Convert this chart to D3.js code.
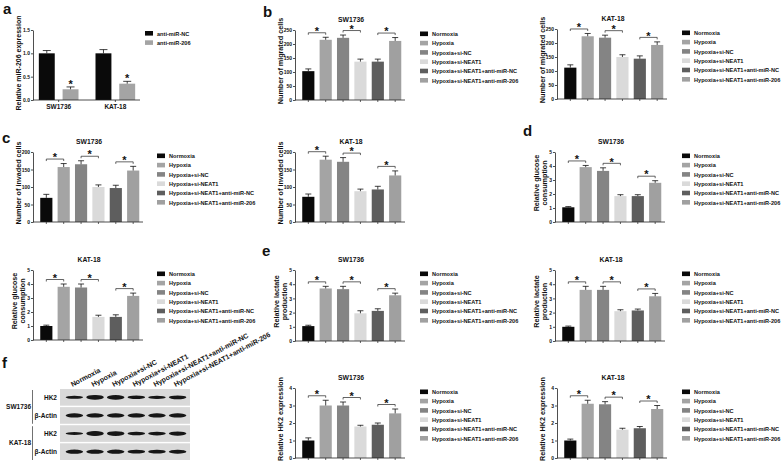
<!DOCTYPE html>
<html>
<head>
<meta charset="utf-8">
<script src="https://cdn.jsdelivr.net/npm/d3@7"></script>
<style>
  body { margin: 0; background: #fff; }
  svg text { font-family: "Liberation Sans", Arial, sans-serif; font-weight: bold; fill: #111; }
</style>
</head>
<body>
<svg id="fig" width="784" height="468"></svg>
<script>
// ---- data ----
const groups = ["Normoxia", "Hypoxia", "Hypoxia+si-NC", "Hypoxia+si-NEAT1",
  "Hypoxia+si-NEAT1+anti-miR-NC", "Hypoxia+si-NEAT1+anti-miR-206"];
const pairs = [[0, 1], [2, 3], [4, 5]];

// panel a
const aCells = ["SW1736", "KAT-18"];
const aSeries = ["anti-miR-NC", "anti-miR-206"];
const aVals = [[1.0, 0.23], [1.0, 0.35]];
const aErrs = [[0.06, 0.05], [0.08, 0.05]];

// panel b: migrated cells
const migSW = [103, 215, 222, 137, 137, 211];
const migSWErr = [8, 9, 10, 9, 9, 12];
const migKAT = [112, 224, 219, 150, 144, 193];
const migKATErr = [10, 10, 9, 8, 10, 11];

// panel c: invaded cells
const invSW = [69, 157, 165, 100, 97, 147];
const invSWErr = [10, 10, 10, 6, 8, 12];
const invKAT = [72, 178, 172, 88, 93, 133];
const invKATErr = [8, 10, 12, 6, 9, 13];

// panel d: glucose consumption
const gluSW = [1.05, 3.92, 3.65, 1.85, 1.85, 2.8];
const gluSWErr = [0.05, 0.12, 0.22, 0.1, 0.1, 0.15];
const gluKAT = [1.0, 3.8, 3.75, 1.65, 1.65, 3.15];
const gluKATErr = [0.06, 0.2, 0.25, 0.12, 0.15, 0.2];

// panel e: lactate production
const lacSW = [1.05, 3.7, 3.65, 1.95, 2.12, 3.22];
const lacSWErr = [0.06, 0.15, 0.2, 0.18, 0.15, 0.15];
const lacKAT = [1.0, 3.6, 3.6, 2.1, 2.15, 3.15];
const lacKATErr = [0.05, 0.25, 0.25, 0.1, 0.1, 0.2];

// panel f: HK2 expression
const hkSW = [1.0, 3.0, 3.0, 1.8, 1.9, 2.55];
const hkSWErr = [0.15, 0.3, 0.2, 0.07, 0.1, 0.25];
const hkKAT = [1.0, 3.1, 3.07, 1.62, 1.7, 2.8];
const hkKATErr = [0.08, 0.2, 0.15, 0.08, 0.1, 0.2];

// western blot band strength (0..1)
const blotRows = ["HK2", "β-Actin", "HK2", "β-Actin"];
const blotCells = ["SW1736", "KAT-18"];
const bandHK2SW = [0.35, 0.9, 0.85, 0.5, 0.45, 0.6];
const bandActSW = [0.75, 0.7, 0.7, 0.75, 0.7, 0.7];
const bandHK2KAT = [0.35, 0.95, 0.9, 0.5, 0.55, 0.75];
const bandActKAT = [0.75, 0.7, 0.7, 0.6, 0.6, 0.65];

const groupColors = ["#0a0a0a", "#a4a4a4", "#848484", "#dadada", "#5e5e5e", "#a0a0a0"];
const aColors = ["#0a0a0a", "#a4a4a4"];

const svg = d3.select("#fig");

function styleAxis(g) {
  g.attr("font-family", null).attr("font-size", 5);
  g.selectAll("path, line").attr("stroke", "#222").attr("stroke-width", 0.8);
  g.selectAll("text").attr("fill", "#222");
}

function legend(x, y, labels, colors) {
  const g = svg.append("g").attr("transform", `translate(${x},${y})`);
  labels.forEach((t, i) => {
    g.append("rect").attr("x", 0).attr("y", i * 9.3 - 2.5).attr("width", 8).attr("height", 4.6).attr("fill", colors[i]);
    g.append("text").attr("x", 12).attr("y", i * 9.3 + 2).attr("font-size", 5.6).attr("fill", "#333").text(t);
  });
}

function yTitle(lines, cx, cy, size) {
  const t = svg.append("text").attr("transform", `translate(${cx},${cy}) rotate(-90)`)
    .attr("text-anchor", "middle").attr("font-size", size || 7.2).attr("fill", "#222");
  lines.forEach((l, i) => {
    t.append("tspan").attr("x", 0).attr("dy", i === 0 ? -(lines.length - 1) * 4.2 + 2.5 : 8.2).text(l);
  });
}

function barPanel(p) {
  const g = svg.append("g");
  const y = d3.scaleLinear().domain([0, p.max]).range([p.yBot, p.yTop]);
  const x = d3.scaleBand().domain(d3.range(groups.length))
    .range([p.x0 + 5.5, p.x0 + 108]).paddingInner(0.3).paddingOuter(0.1);
  const cx = i => x(i) + x.bandwidth() / 2;

  g.selectAll("rect.bar").data(p.vals).join("rect").attr("class", "bar")
    .attr("x", (d, i) => x(i)).attr("width", x.bandwidth())
    .attr("y", d => y(d)).attr("height", d => p.yBot - y(d))
    .attr("fill", (d, i) => groupColors[i]);

  // error bars (upper only)
  p.vals.forEach((v, i) => {
    const top = y(v + p.errs[i]);
    g.append("line").attr("x1", cx(i)).attr("x2", cx(i)).attr("y1", y(v)).attr("y2", top)
      .attr("stroke", "#111").attr("stroke-width", 0.8);
    g.append("line").attr("x1", cx(i) - 3).attr("x2", cx(i) + 3).attr("y1", top).attr("y2", top)
      .attr("stroke", "#111").attr("stroke-width", 0.8);
  });

  // significance brackets
  pairs.forEach(([a, b]) => {
    const hi = Math.max(p.vals[a] + p.errs[a], p.vals[b] + p.errs[b]);
    const yb = y(hi) - 4.5;
    g.append("path").attr("d", `M${cx(a)},${yb + 2}V${yb}H${cx(b)}V${yb + 2}`)
      .attr("fill", "none").attr("stroke", "#222").attr("stroke-width", 0.7);
    g.append("text").attr("x", (cx(a) + cx(b)) / 2).attr("y", yb + 2.2)
      .attr("text-anchor", "middle").attr("font-size", 11).text("*");
  });

  const ya = g.append("g").attr("transform", `translate(${p.x0},0)`)
    .call(d3.axisLeft(y).tickValues(d3.range(0, p.max + 1e-9, p.step))
      .tickSize(2).tickSizeOuter(0).tickPadding(1).tickFormat(d3.format("d")));
  styleAxis(ya);

  g.append("line").attr("x1", p.x0).attr("x2", p.x0 + 110).attr("y1", p.yBot).attr("y2", p.yBot)
    .attr("stroke", "#222").attr("stroke-width", 0.8);
  d3.range(groups.length).forEach(i => {
    g.append("line").attr("x1", cx(i)).attr("x2", cx(i)).attr("y1", p.yBot).attr("y2", p.yBot + 2)
      .attr("stroke", "#222").attr("stroke-width", 0.7);
  });

  svg.append("text").attr("x", p.x0 + 56).attr("y", p.yTop - 8).attr("text-anchor", "middle")
    .attr("font-size", 6.8).attr("fill", "#222").text(p.title);
  yTitle(p.ylab, p.x0 - 14.5, (p.yTop + p.yBot) / 2 - 4);
  if (p.legend) legend(p.legend[0], p.legend[1], groups, groupColors);
}

// ---- panel a ----
(function () {
  const x0 = 33, yTop = 30, yBot = 100;
  const y = d3.scaleLinear().domain([0, 1.5]).range([yBot, yTop]);
  const xg = d3.scaleBand().domain(aCells).range([x0 + 3, x0 + 105]).paddingInner(0.3).paddingOuter(0.05);
  const xs = d3.scaleBand().domain(d3.range(aSeries.length)).range([0, xg.bandwidth()]).paddingInner(0.33);
  const g = svg.append("g");
  aCells.forEach((c, ci) => {
    aVals[ci].forEach((v, si) => {
      const bx = xg(c) + xs(si), bc = bx + xs.bandwidth() / 2;
      g.append("rect").attr("x", bx).attr("width", xs.bandwidth()).attr("y", y(v))
        .attr("height", yBot - y(v)).attr("fill", aColors[si]);
      const top = y(v + aErrs[ci][si]);
      g.append("line").attr("x1", bc).attr("x2", bc).attr("y1", y(v)).attr("y2", top).attr("stroke", "#111").attr("stroke-width", 0.8);
      g.append("line").attr("x1", bc - 4).attr("x2", bc + 4).attr("y1", top).attr("y2", top).attr("stroke", "#111").attr("stroke-width", 0.8);
      if (si === 1) g.append("text").attr("x", bc).attr("y", top + 1).attr("text-anchor", "middle").attr("font-size", 11).text("*");
    });
  });
  const ya = g.append("g").attr("transform", `translate(${x0},0)`)
    .call(d3.axisLeft(y).tickValues([0, 0.5, 1, 1.5]).tickSize(2).tickSizeOuter(0).tickPadding(1).tickFormat(d3.format(".1f")));
  styleAxis(ya);
  const xa = g.append("g").attr("transform", `translate(0,${yBot})`)
    .call(d3.axisBottom(xg).tickSize(2).tickSizeOuter(0).tickPadding(2));
  styleAxis(xa);
  xa.select(".domain").attr("d", `M${x0},0H${x0 + 107}`);
  xa.selectAll("text").attr("font-size", 6.5);
  yTitle(["Relative miR-206 expression"], 18, 63, 7);
  legend(145, 33.5, aSeries, aColors);
})();

// ---- bar panels b-f ----
const panels = [
  { x0: 295, yTop: 30, yBot: 100, max: 250, step: 50, vals: migSW, errs: migSWErr, title: "SW1736", ylab: ["Number of migrated cells"], legend: [420, 34] },
  { x0: 557, yTop: 29, yBot: 99, max: 250, step: 50, vals: migKAT, errs: migKATErr, title: "KAT-18", ylab: ["Number of migrated cells"], legend: [682, 33] },
  { x0: 33, yTop: 152, yBot: 222, max: 200, step: 50, vals: invSW, errs: invSWErr, title: "SW1736", ylab: ["Number of invaded cells"], legend: [157, 156] },
  { x0: 295, yTop: 152, yBot: 222, max: 200, step: 50, vals: invKAT, errs: invKATErr, title: "KAT-18", ylab: ["Number of invaded cells"] },
  { x0: 555, yTop: 152, yBot: 222, max: 5, step: 1, vals: gluSW, errs: gluSWErr, title: "SW1736", ylab: ["Relative glucose", "consumption"], legend: [682, 156] },
  { x0: 33, yTop: 270, yBot: 340, max: 5, step: 1, vals: gluKAT, errs: gluKATErr, title: "KAT-18", ylab: ["Relative glucose", "consumption"], legend: [157, 274] },
  { x0: 295, yTop: 270, yBot: 341, max: 5, step: 1, vals: lacSW, errs: lacSWErr, title: "SW1736", ylab: ["Relative lactate", "production"], legend: [420, 274] },
  { x0: 555, yTop: 270, yBot: 341, max: 5, step: 1, vals: lacKAT, errs: lacKATErr, title: "KAT-18", ylab: ["Relative lactate", "production"], legend: [682, 274] },
  { x0: 295, yTop: 388, yBot: 458, max: 4, step: 1, vals: hkSW, errs: hkSWErr, title: "SW1736", ylab: ["Relative HK2 expression"], legend: [420, 392] },
  { x0: 557, yTop: 388, yBot: 458, max: 4, step: 1, vals: hkKAT, errs: hkKATErr, title: "KAT-18", ylab: ["Relative HK2 expression"], legend: [682, 392] }
];
panels.forEach(barPanel);

// ---- panel f western blot ----
(function () {
  const g = svg.append("g");
  const lx = d3.scaleBand().domain(d3.range(groups.length)).range([62, 190]).padding(0.2);
  const rowY = d3.scaleBand().domain(d3.range(blotRows.length)).range([389, 460]).paddingInner(0.08);
  const bands = [bandHK2SW, bandActSW, bandHK2KAT, bandActKAT];
  const defs = svg.append("defs");
  defs.append("filter").attr("id", "blur").append("feGaussianBlur").attr("stdDeviation", 0.6);

  blotRows.forEach((r, ri) => {
    g.append("rect").attr("x", 60).attr("y", rowY(ri)).attr("width", 130).attr("height", rowY.bandwidth())
      .attr("fill", "#d9d9d9");
    bands[ri].forEach((s, li) => {
      g.append("ellipse").attr("cx", lx(li) + lx.bandwidth() / 2).attr("cy", rowY(ri) + rowY.bandwidth() / 2)
        .attr("rx", lx.bandwidth() / 2 + 0.5).attr("ry", 0.9 + s * 1.7)
        .attr("fill", "#141414").attr("filter", "url(#blur)");
    });
    g.append("text").attr("x", 57).attr("y", rowY(ri) + rowY.bandwidth() / 2 + 2.3)
      .attr("text-anchor", "end").attr("font-size", 6.5).text(r);
  });
  blotCells.forEach((c, ci) => {
    const y0 = rowY(ci * 2), y1 = rowY(ci * 2 + 1) + rowY.bandwidth();
    g.append("line").attr("x1", 32.5).attr("x2", 32.5).attr("y1", y0 + 1).attr("y2", y1)
      .attr("stroke", "#333").attr("stroke-width", 0.7);
    g.append("text").attr("x", 31).attr("y", (y0 + y1) / 2 + 2.3).attr("text-anchor", "end")
      .attr("font-size", 6.5).text(c);
  });
  groups.forEach((t, li) => {
    const cx = lx(li) + lx.bandwidth() / 2 - 2;
    g.append("text").attr("transform", `translate(${cx},387) rotate(-28)`)
      .attr("font-size", 7).text(t);
  });
})();

// ---- panel letters ----
[["a", 3, 14], ["b", 263, 17], ["c", 2, 143], ["d", 523, 136], ["e", 262, 256], ["f", 2, 368]].forEach(([t, x, y]) => {
  svg.append("text").attr("x", x).attr("y", y).attr("font-size", 15).attr("fill", "#000").text(t);
});
</script>
</body>
</html>
